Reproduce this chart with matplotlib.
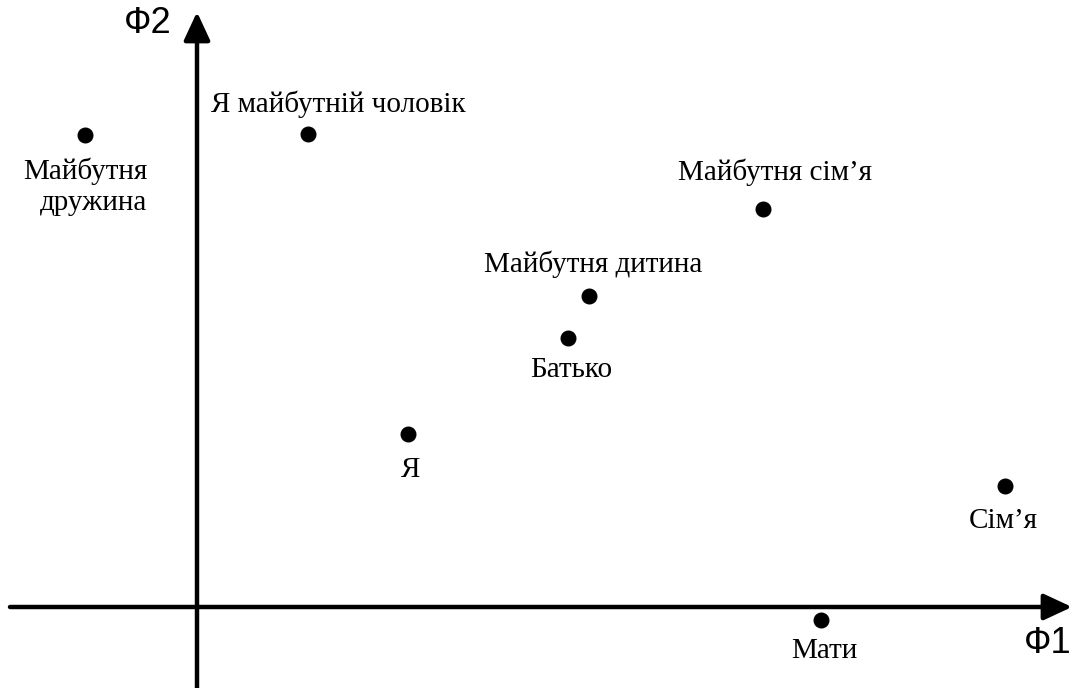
import matplotlib
matplotlib.use('Agg')
import matplotlib.pyplot as plt

# factor scores (Ф1, Ф2)
labels = ['Майбутня\nдружина', 'Я майбутній чоловік', 'Майбутня сім’я',
          'Майбутня дитина', 'Батько', 'Я', 'Сім’я', 'Мати']
f1 = [-1.12, 1.11, 5.66, 3.92, 3.71, 2.11, 8.08, 6.24]
f2 = [4.72, 4.73, 3.98, 3.11, 2.69, 1.73, 1.21, -0.13]

# label placement relative to the point, in pixels
offsets = [(62, -75), (30, 22), (12, 29), (4, 24), (3, -39), (3, -43), (-2, -42), (3, -38)]
aligns = ['right', 'center', 'center', 'center', 'center', 'center', 'center', 'center']

fig = plt.figure(figsize=(10.85, 6.88), dpi=100)
ax = fig.add_axes([0, 0, 1, 1])
ax.set_xlim(-1.97, 8.88)
ax.set_ylim(-0.81, 6.07)
ax.axis('off')

# axes with arrows
arrow = dict(arrowstyle='-|>,head_length=0.43,head_width=0.2', lw=3.2, color='black',
             mutation_scale=40, shrinkA=0, shrinkB=0)
ax.annotate('', xy=(8.75, 0), xytext=(-1.87, 0), arrowprops=arrow)
ax.annotate('', xy=(0, 5.95), xytext=(0, -0.81), arrowprops=arrow)

ax.text(-0.25, 5.74, 'Ф2', fontsize=26, family='Liberation Sans', ha='right', va='baseline')
ax.text(8.75, -0.46, 'Ф1', fontsize=26, family='Liberation Sans', ha='right', va='baseline')

ax.plot(f1, f2, 'o', color='black', ms=10.5, clip_on=False)
for lab, x, y, off, ha in zip(labels, f1, f2, offsets, aligns):
    ax.annotate(lab, xy=(x, y), xytext=off, textcoords='offset pixels',
                ha=ha, va='baseline', fontsize=21, family='Liberation Serif',
                multialignment=ha, linespacing=1.25)

fig.savefig('out.png', dpi=100)
